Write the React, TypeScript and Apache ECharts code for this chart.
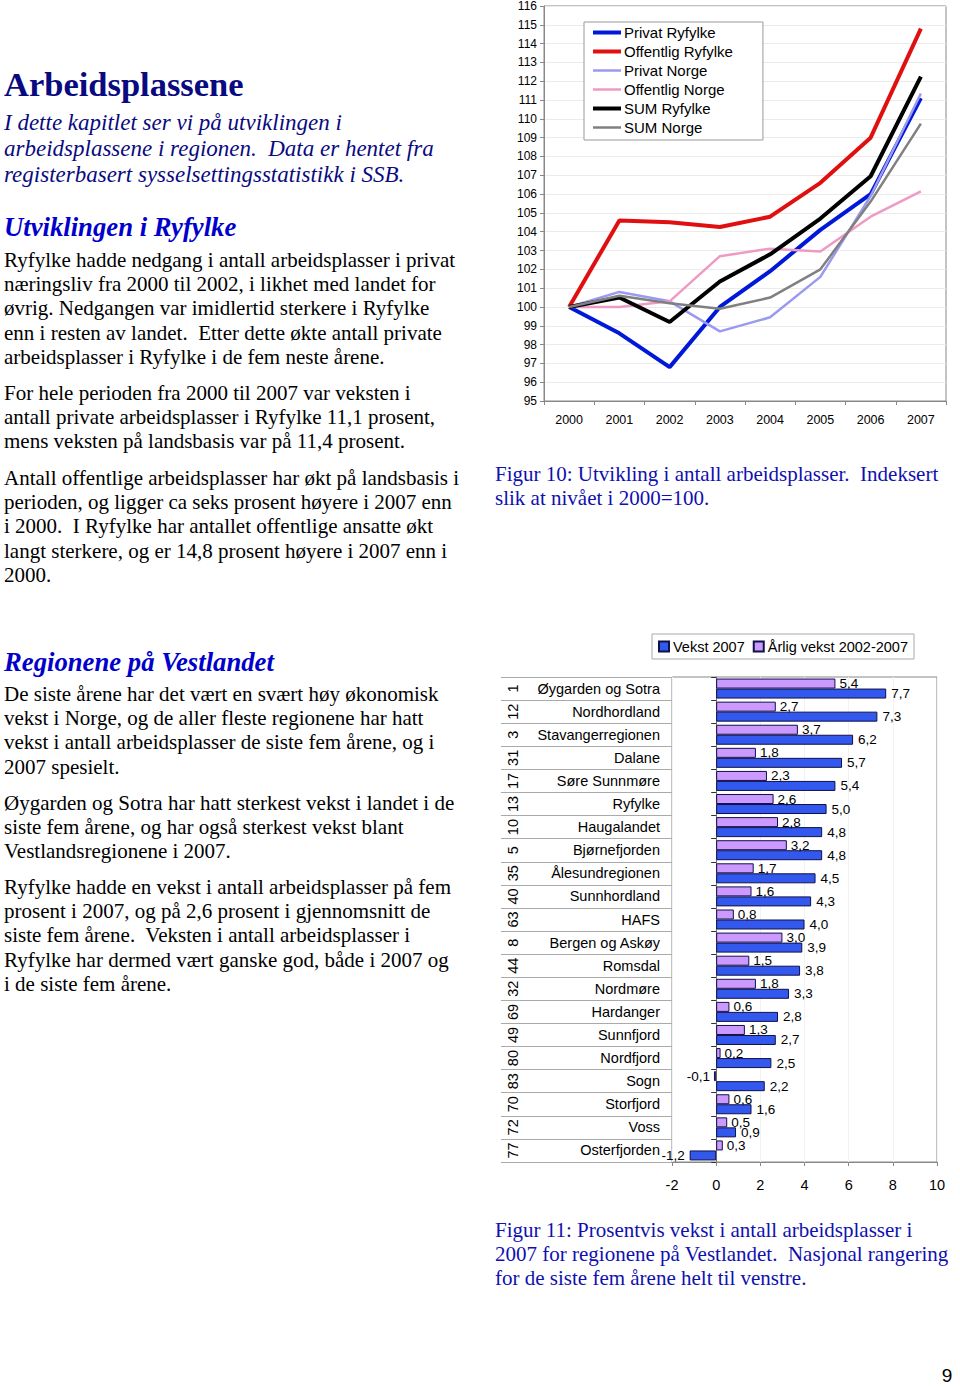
import React, { useEffect, useRef } from 'react';
import * as echarts from 'echarts';

// ---------- Figure 10 data ----------
const years = ['2000', '2001', '2002', '2003', '2004', '2005', '2006', '2007'];
const privatRyfylke = [100, 98.6, 96.8, 100.0, 101.9, 104.1, 106.0, 111.1];
const offentligRyfylke = [100, 104.6, 104.5, 104.25, 104.8, 106.6, 109.0, 114.8];
const privatNorge = [100, 100.8, 100.3, 98.7, 99.45, 101.6, 105.9, 111.35];
const offentligNorge = [100, 100.0, 100.3, 102.7, 103.1, 102.95, 104.8, 106.15];
const sumRyfylke = [100, 100.5, 99.2, 101.35, 102.8, 104.7, 106.95, 112.25];
const sumNorge = [100, 100.6, 100.2, 99.9, 100.5, 102.0, 105.6, 109.75];

// ---------- Figure 11 data ----------
const regions = [
  'Øygarden og Sotra', 'Nordhordland', 'Stavangerregionen', 'Dalane', 'Søre Sunnmøre',
  'Ryfylke', 'Haugalandet', 'Bjørnefjorden', 'Ålesundregionen', 'Sunnhordland', 'HAFS',
  'Bergen og Askøy', 'Romsdal', 'Nordmøre', 'Hardanger', 'Sunnfjord', 'Nordfjord', 'Sogn',
  'Storfjord', 'Voss', 'Osterfjorden',
];
const ranks = ['1', '12', '3', '31', '17', '13', '10', '5', '35', '40', '63', '8', '44', '32', '69', '49', '80', '83', '70', '72', '77'];
const vekst2007 = [7.7, 7.3, 6.2, 5.7, 5.4, 5.0, 4.8, 4.8, 4.5, 4.3, 4.0, 3.9, 3.8, 3.3, 2.8, 2.7, 2.5, 2.2, 1.6, 0.9, -1.2];
const arligVekst = [5.4, 2.7, 3.7, 1.8, 2.3, 2.6, 2.8, 3.2, 1.7, 1.6, 0.8, 3.0, 1.5, 1.8, 0.6, 1.3, 0.2, -0.1, 0.6, 0.5, 0.3];

// ---------- Page text ----------
const introLines = [
  'I dette kapitlet ser vi på utviklingen i',
  'arbeidsplassene i regionen.  Data er hentet fra',
  'registerbasert sysselsettingsstatistikk i SSB.',
];
const para1 = [
  'Ryfylke hadde nedgang i antall arbeidsplasser i privat',
  'næringsliv fra 2000 til 2002, i likhet med landet for',
  'øvrig. Nedgangen var imidlertid sterkere i Ryfylke',
  'enn i resten av landet.  Etter dette økte antall private',
  'arbeidsplasser i Ryfylke i de fem neste årene.',
];
const para2 = [
  'For hele perioden fra 2000 til 2007 var veksten i',
  'antall private arbeidsplasser i Ryfylke 11,1 prosent,',
  'mens veksten på landsbasis var på 11,4 prosent.',
];
const para3 = [
  'Antall offentlige arbeidsplasser har økt på landsbasis i',
  'perioden, og ligger ca seks prosent høyere i 2007 enn',
  'i 2000.  I Ryfylke har antallet offentlige ansatte økt',
  'langt sterkere, og er 14,8 prosent høyere i 2007 enn i',
  '2000.',
];
const para4 = [
  'De siste årene har det vært en svært høy økonomisk',
  'vekst i Norge, og de aller fleste regionene har hatt',
  'vekst i antall arbeidsplasser de siste fem årene, og i',
  '2007 spesielt.',
];
const para5 = [
  'Øygarden og Sotra har hatt sterkest vekst i landet i de',
  'siste fem årene, og har også sterkest vekst blant',
  'Vestlandsregionene i 2007.',
];
const para6 = [
  'Ryfylke hadde en vekst i antall arbeidsplasser på fem',
  'prosent i 2007, og på 2,6 prosent i gjennomsnitt de',
  'siste fem årene.  Veksten i antall arbeidsplasser i',
  'Ryfylke har dermed vært ganske god, både i 2007 og',
  'i de siste fem årene.',
];
const caption10 = [
  'Figur 10: Utvikling i antall arbeidsplasser.  Indeksert',
  'slik at nivået i 2000=100.',
];
const caption11 = [
  'Figur 11: Prosentvis vekst i antall arbeidsplasser i',
  '2007 for regionene på Vestlandet.  Nasjonal rangering',
  'for de siste fem årene helt til venstre.',
];

const SERIF = "'Liberation Serif', 'Times New Roman', serif";
const SANS = "'Liberation Sans', Arial, sans-serif";

function textBlock(lines: string[], x: number, y0: number, step: number, font: string, fill: string) {
  return lines.map((t, i) => ({
    type: 'text',
    silent: true,
    style: { text: t, x, y: y0 + i * step, font, fill, textAlign: 'left', textVerticalAlign: 'middle' },
  }));
}

const fmt = (v: number) => v.toFixed(1).replace('.', ',');

export default function App() {
  const ref = useRef<HTMLDivElement>(null);
  useEffect(() => {
    if (!ref.current) return;
    const chart = echarts.init(ref.current, null, { renderer: 'svg' });
    const body = `21px ${SERIF}`;
    const graphics: any[] = [
      { type: 'text', silent: true, style: { text: 'Arbeidsplassene', x: 4, y: 84, font: `bold 34.5px ${SERIF}`, fill: '#0a0a80', textAlign: 'left', textVerticalAlign: 'middle' } },
      ...textBlock(introLines, 4, 122, 26, `italic 23px ${SERIF}`, '#0a0a80'),
      { type: 'text', silent: true, style: { text: 'Utviklingen i Ryfylke', x: 4, y: 227, font: `italic bold 26.7px ${SERIF}`, fill: '#0000cc', textAlign: 'left', textVerticalAlign: 'middle' } },
      ...textBlock(para1, 4, 260, 24.2, body, '#000'),
      ...textBlock(para2, 4, 393, 24.2, body, '#000'),
      ...textBlock(para3, 4, 478, 24.2, body, '#000'),
      ...textBlock(caption10, 495, 474, 24.2, body, '#1010b0'),
      { type: 'text', silent: true, style: { text: 'Regionene på Vestlandet', x: 4, y: 662, font: `italic bold 26.7px ${SERIF}`, fill: '#0000cc', textAlign: 'left', textVerticalAlign: 'middle' } },
      ...textBlock(para4, 4, 694, 24.2, body, '#000'),
      ...textBlock(para5, 4, 803, 24.2, body, '#000'),
      ...textBlock(para6, 4, 887, 24.2, body, '#000'),
      ...textBlock(caption11, 495, 1230, 24.2, body, '#1010b0'),
      { type: 'text', silent: true, style: { text: '9', x: 947, y: 1375, font: `19px ${SANS}`, fill: '#000', textAlign: 'center', textVerticalAlign: 'middle' } },
    ];

    const lineSeries = [
      { name: 'Privat Ryfylke', data: privatRyfylke, color: '#0018d8', width: 4 },
      { name: 'Offentlig Ryfylke', data: offentligRyfylke, color: '#e01010', width: 4 },
      { name: 'Privat Norge', data: privatNorge, color: '#9a9af0', width: 2.5 },
      { name: 'Offentlig Norge', data: offentligNorge, color: '#ee9ac4', width: 2.5 },
      { name: 'SUM Ryfylke', data: sumRyfylke, color: '#000000', width: 4 },
      { name: 'SUM Norge', data: sumNorge, color: '#808080', width: 2.5 },
    ];

    const option: any = {
      animation: false,
      backgroundColor: '#ffffff',
      graphic: graphics,
      legend: [
        {
          data: lineSeries.map((s) => ({ name: s.name, lineStyle: { width: s.width, color: s.color } })),
          orient: 'vertical',
          left: 584,
          top: 22,
          padding: [3, 30, 5, 7],
          itemWidth: 28,
          itemHeight: 14,
          itemGap: 4,
          itemStyle: { opacity: 0 },
          backgroundColor: '#fff',
          borderColor: '#999',
          borderWidth: 1,
          textStyle: { fontFamily: SANS, fontSize: 15, color: '#000', padding: [0, 0, 0, -2] },
          selectedMode: false,
        },
        {
          data: ['Vekst 2007', 'Årlig vekst 2002-2007'],
          orient: 'horizontal',
          left: 652,
          top: 634,
          padding: [5, 6, 5, 6],
          itemWidth: 10,
          itemHeight: 10,
          itemGap: 8,
          icon: 'rect',
          backgroundColor: '#fff',
          borderColor: '#aaa',
          borderWidth: 1,
          textStyle: { fontFamily: SANS, fontSize: 14.5, color: '#000', padding: [0, 0, 0, -1] },
          selectedMode: false,
        },
      ],
      grid: [
        { left: 544, top: 4, width: 402, height: 397, show: true, borderColor: '#888', borderWidth: 1, containLabel: false },
        { left: 672, top: 677, width: 265, height: 485, show: true, borderColor: '#888', borderWidth: 1, containLabel: false },
      ],
      xAxis: [
        {
          gridIndex: 0,
          type: 'category',
          data: years,
          boundaryGap: true,
          axisLine: { onZero: false, lineStyle: { color: '#888' } },
          axisTick: { show: true, length: 4, lineStyle: { color: '#888' } },
          axisLabel: { margin: 12, fontFamily: SANS, fontSize: 12.5, color: '#000' },
          splitLine: { show: false },
        },
        {
          gridIndex: 1,
          type: 'value',
          min: -2,
          max: 10,
          interval: 2,
          axisLine: { show: true, onZero: false, lineStyle: { color: '#888' } },
          axisTick: { show: true, length: 4, lineStyle: { color: '#888' } },
          axisLabel: { margin: 15, fontFamily: SANS, fontSize: 14.5, color: '#000' },
          splitLine: { show: true, lineStyle: { color: '#f2f2f2' } },
        },
      ],
      yAxis: [
        {
          gridIndex: 0,
          type: 'value',
          min: 95,
          max: 116,
          interval: 1,
          axisLine: { show: true, onZero: false, lineStyle: { color: '#888' } },
          axisTick: { show: true, length: 4, lineStyle: { color: '#888' } },
          axisLabel: { margin: 7, fontFamily: SANS, fontSize: 12, color: '#000' },
          splitLine: { show: true, lineStyle: { color: '#ebebeb' } },
        },
        {
          gridIndex: 1,
          type: 'category',
          data: regions,
          inverse: true,
          position: 'left',
          axisLine: { show: false, onZero: false },
          axisTick: { show: true, length: 171, lineStyle: { color: '#aaa' } },
          axisLabel: { margin: 12, interval: 0, fontFamily: SANS, fontSize: 14.5, color: '#000' },
          splitLine: { show: false },
        },
        {
          gridIndex: 1,
          type: 'category',
          data: ranks,
          inverse: true,
          position: 'left',
          axisLine: { show: false, onZero: false },
          axisTick: { show: false },
          axisLabel: { margin: 152, interval: 0, rotate: 90, fontFamily: SANS, fontSize: 14.5, color: '#000' },
          splitLine: { show: false },
        },
        {
          gridIndex: 1,
          type: 'category',
          data: regions,
          inverse: true,
          position: 'left',
          axisLine: { show: true, onZero: true, lineStyle: { color: '#777' } },
          axisTick: { show: true, length: 5, lineStyle: { color: '#333' } },
          axisLabel: { show: false },
          splitLine: { show: false },
        },
      ],
      series: [
        ...lineSeries.map((s) => ({
          type: 'line',
          name: s.name,
          xAxisIndex: 0,
          yAxisIndex: 0,
          data: s.data,
          symbol: 'none',
          color: s.color,
          lineStyle: { color: s.color, width: s.width },
          z: 3,
        })),
        {
          type: 'bar',
          name: 'Årlig vekst 2002-2007',
          xAxisIndex: 1,
          yAxisIndex: 1,
          data: arligVekst,
          barWidth: 10,
          barGap: '0%',
          itemStyle: { color: '#cc99ff', borderColor: '#10104a', borderWidth: 1 },
          label: { show: true, position: 'outside', distance: 4, formatter: (p: any) => fmt(p.value), fontFamily: SANS, fontSize: 13.5, color: '#000' },
        },
        {
          type: 'bar',
          name: 'Vekst 2007',
          xAxisIndex: 1,
          yAxisIndex: 1,
          data: vekst2007,
          barWidth: 10,
          barGap: '0%',
          itemStyle: { color: '#3358ee', borderColor: '#10104a', borderWidth: 1 },
          label: { show: true, position: 'outside', distance: 5, formatter: (p: any) => fmt(p.value), fontFamily: SANS, fontSize: 13.5, color: '#000' },
        },
      ],
    };
    chart.setOption(option);
    return () => chart.dispose();
  }, []);
  return <div ref={ref} style={{ position: 'absolute', left: 0, top: 0, width: 960, height: 1387 }} />;
}
